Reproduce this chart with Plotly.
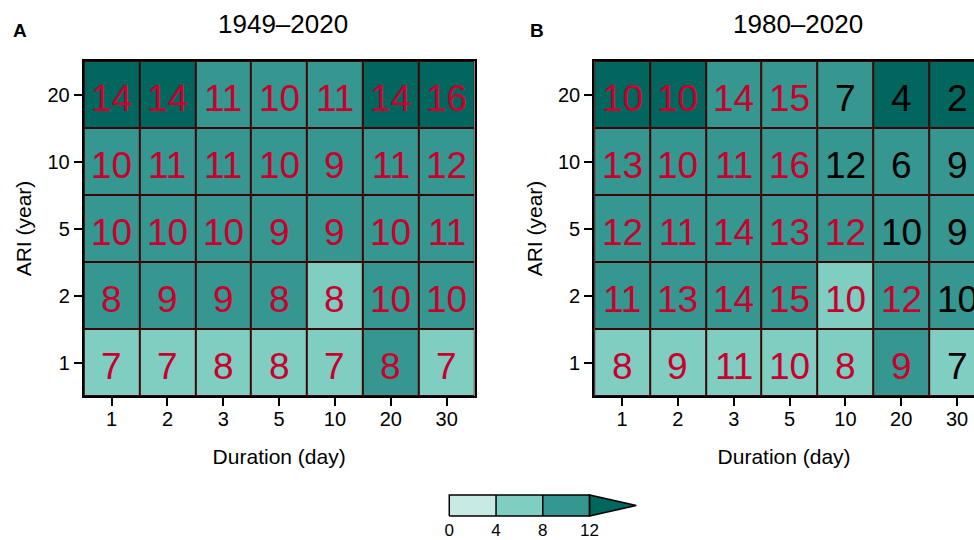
import plotly.graph_objects as go

# ---------------- data ----------------
durations = ["1", "2", "3", "5", "10", "20", "30"]          # Duration (day)
ari = ["1", "2", "5", "10", "20"]                            # ARI (year), bottom -> top

# numbers printed in the cells (rows: ARI 1, 2, 5, 10, 20)
values_A = [
    [7, 7, 8, 8, 7, 8, 7],
    [8, 9, 9, 8, 8, 10, 10],
    [10, 10, 10, 9, 9, 10, 11],
    [10, 11, 11, 10, 9, 11, 12],
    [14, 14, 11, 10, 11, 14, 16],
]
values_B = [
    [8, 9, 11, 10, 8, 9, 7],
    [11, 13, 14, 15, 10, 12, 10],
    [12, 11, 14, 13, 12, 10, 9],
    [13, 10, 11, 16, 12, 6, 9],
    [10, 10, 14, 15, 7, 4, 2],
]
# cell shading values (estimated from fill class)
shade_A = [
    [6, 6, 6, 6, 6, 10, 6],
    [10, 10, 10, 10, 6, 10, 10],
    [10, 10, 10, 10, 10, 10, 10],
    [10, 10, 10, 10, 10, 10, 10],
    [14, 14, 10, 10, 10, 14, 14],
]
shade_B = [
    [6, 6, 6, 6, 6, 10, 6],
    [10, 10, 10, 10, 6, 10, 10],
    [10, 10, 10, 10, 10, 10, 10],
    [10, 10, 10, 10, 10, 10, 10],
    [14, 14, 10, 10, 10, 14, 14],
]
# 1 = significant (red text), 0 = not (black text)
sig_A = [[1] * 7 for _ in range(5)]
sig_B = [
    [1, 1, 1, 1, 1, 1, 0],
    [1, 1, 1, 1, 1, 1, 0],
    [1, 1, 1, 1, 1, 0, 0],
    [1, 1, 1, 1, 0, 0, 0],
    [1, 1, 1, 1, 0, 0, 0],
]
titles = ["1949–2020", "1980–2020"]
panel_tags = ["A", "B"]
cbar_edges = [0, 4, 8, 12, 16]
cbar_labels = ["0", "4", "8", "12"]

# ---------------- style ----------------
colors = ["#c7eae5", "#80cdc1", "#35978f", "#01665e"]
zmin, zmax = cbar_edges[0], cbar_edges[-1]
colorscale = []
for i, c in enumerate(colors):
    colorscale.append([i / len(colors), c])
    colorscale.append([(i + 1) / len(colors), c])
RED = "#c8002d"
BORDER = "#3a0606"
FONT = "Liberation Sans, Arial, sans-serif"

W, H = 974, 540


def fx(px):
    return px / W


def fy(py):
    return 1 - py / H


fig = go.Figure()

panels = [
    (values_A, shade_A, sig_A, "x", "y"),
    (values_B, shade_B, sig_B, "x2", "y2"),
]
for vals, shade, sig, xa, ya in panels:
    fig.add_trace(go.Heatmap(
        x=durations, y=ari, z=shade, zmin=zmin, zmax=zmax,
        colorscale=colorscale, showscale=False, xgap=2, ygap=2,
        xaxis=xa, yaxis=ya, hoverinfo="skip"))
    # cell numbers, placed by category index on the category axes
    for r in range(len(ari)):
        for c in range(len(durations)):
            fig.add_annotation(
                x=c, y=r, xref=xa, yref=ya, text=str(vals[r][c]),
                showarrow=False, yshift=-4,
                font=dict(color=RED if sig[r][c] else "black", size=37,
                          family=FONT))
    # dark cell-border colour behind the heatmap gaps
    fig.add_shape(type="rect", xref=xa + " domain", yref=ya + " domain",
                  x0=0, x1=1, y0=0, y1=1, fillcolor=BORDER, line_width=0,
                  layer="below")

# ---- colour key (bottom) ----
mids = [(cbar_edges[i] + cbar_edges[i + 1]) / 2 for i in range(3)]
fig.add_trace(go.Heatmap(
    x=mids, y=[0.5], z=[mids], zmin=zmin, zmax=zmax, colorscale=colorscale,
    showscale=False, xaxis="x3", yaxis="y3", hoverinfo="skip"))
fig.add_trace(go.Scatter(
    x=[cbar_edges[3], cbar_edges[4], cbar_edges[3], cbar_edges[3]],
    y=[0, 0.5, 1, 0], fill="toself", fillcolor=colors[3], mode="lines",
    line=dict(color="black", width=1.5), xaxis="x3", yaxis="y3",
    showlegend=False, hoverinfo="skip"))
ox = [cbar_edges[0], cbar_edges[3], cbar_edges[3], cbar_edges[0], cbar_edges[0], None,
      cbar_edges[1], cbar_edges[1], None, cbar_edges[2], cbar_edges[2]]
oy = [0, 0, 1, 1, 0, None, 0, 1, None, 0, 1]
fig.add_trace(go.Scatter(
    x=ox, y=oy, mode="lines", line=dict(color="black", width=1.5),
    xaxis="x3", yaxis="y3", showlegend=False, hoverinfo="skip"))

axis_common = dict(
    type="category", showgrid=False, zeroline=False, showline=True,
    linecolor="black", linewidth=2, ticks="outside", ticklen=8,
    tickwidth=1.5, tickcolor="black",
    tickfont=dict(size=20, color="black", family=FONT))

y_dom = [fy(396), fy(61)]
xtitle = dict(text="Duration (day)", font=dict(size=21), standoff=20)
ytitle = dict(text="ARI (year)", font=dict(size=21), standoff=10)
layout = dict(
    width=W, height=H, margin=dict(l=0, r=0, t=0, b=0),
    paper_bgcolor="white", plot_bgcolor="white", showlegend=False,
    font=dict(family=FONT, color="black"),
    xaxis=dict(axis_common, domain=[fx(81), fx(473)], range=[-0.5, 6.5],
               mirror=True, anchor="y", title=xtitle, ticklabelstandoff=-4),
    yaxis=dict(axis_common, domain=y_dom, range=[-0.5, 4.5], mirror=True,
               anchor="x", title=ytitle),
    xaxis2=dict(axis_common, domain=[fx(593), 1.0],
                range=[-0.5, -0.5 + 381 / 56], mirror=True, anchor="y2",
                title=xtitle, ticklabelstandoff=-4),
    yaxis2=dict(axis_common, domain=y_dom, range=[-0.5, 4.5], mirror=False,
                anchor="x2", title=ytitle),
    xaxis3=dict(domain=[fx(445.9), fx(637)], range=[-0.15, 16.15],
                showgrid=False, zeroline=False, showline=False, ticks="",
                tickvals=cbar_edges[:4], ticktext=cbar_labels,
                tickfont=dict(size=17, color="black", family=FONT),
                anchor="y3", fixedrange=True),
    yaxis3=dict(domain=[fy(517.7), fy(493.3)], range=[-0.08, 1.08],
                visible=False, anchor="x3", fixedrange=True),
)
fig.update_layout(**layout)

# panel titles and tags
for t, xc in zip(titles, [281, 797]):
    fig.add_annotation(text=t, x=fx(xc), y=fy(24), xref="paper", yref="paper",
                       showarrow=False, font=dict(size=26, color="black", family=FONT),
                       xanchor="center", yanchor="middle")
for tag, xc in zip(panel_tags, [17, 536]):
    fig.add_annotation(text="<b>%s</b>" % tag, x=fx(xc), y=fy(30),
                       xref="paper", yref="paper", showarrow=False,
                       font=dict(size=19, color="black", family=FONT),
                       xanchor="center", yanchor="middle")

fig.write_html("out.html", config={"displayModeBar": False},
               post_script="document.body.style.margin='0';"
                           "document.body.style.overflow='hidden';")
